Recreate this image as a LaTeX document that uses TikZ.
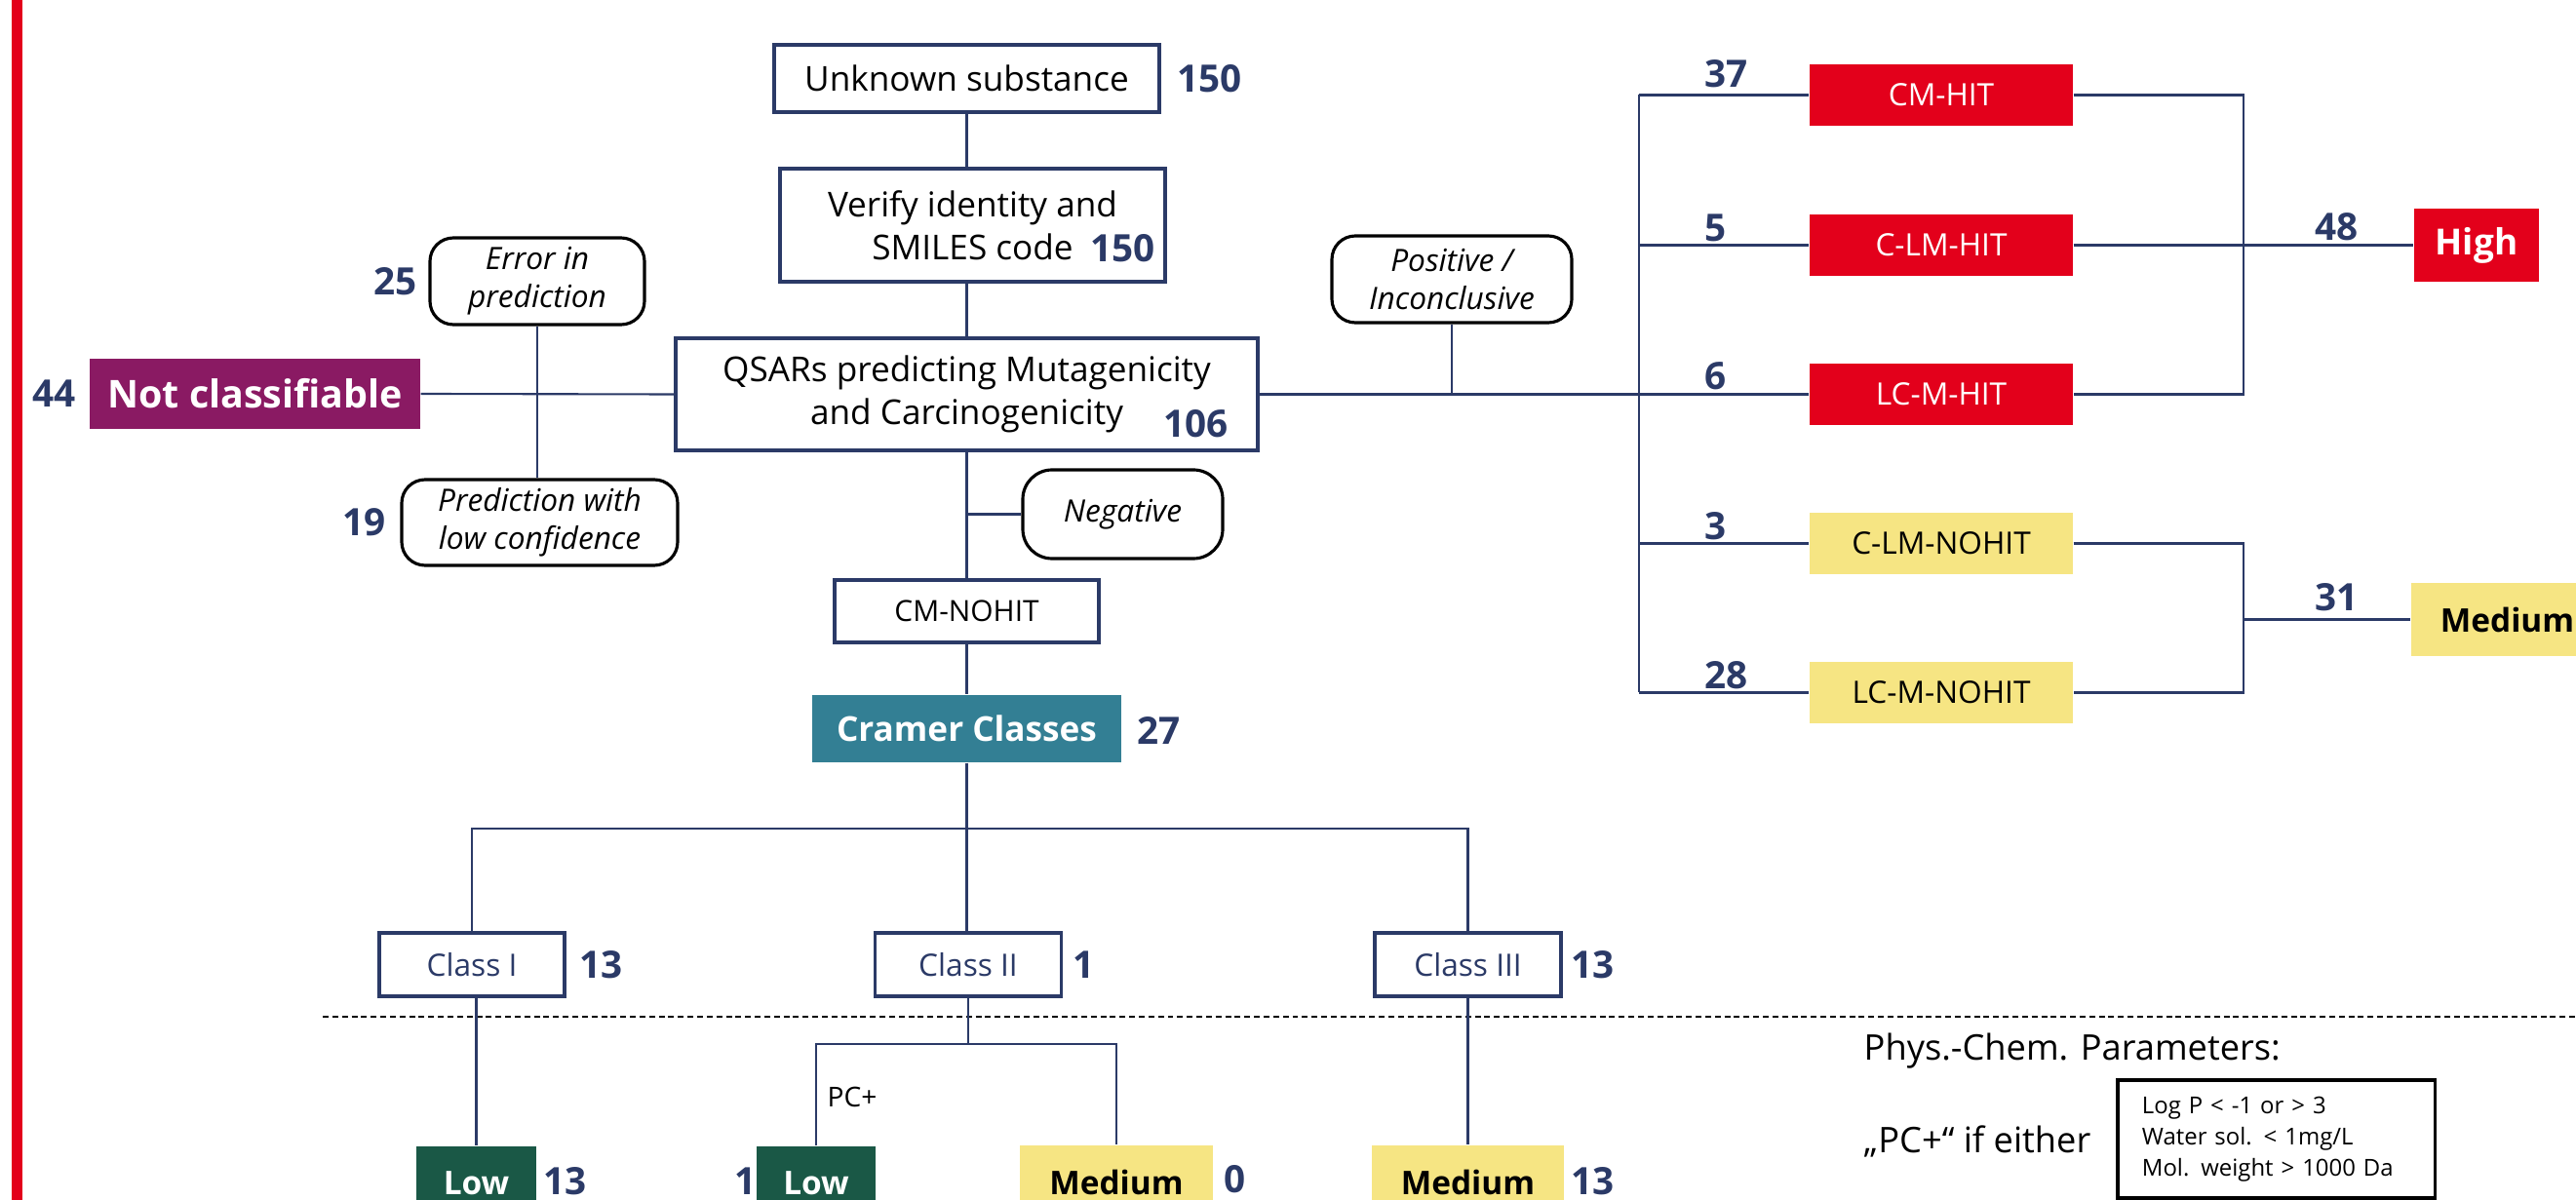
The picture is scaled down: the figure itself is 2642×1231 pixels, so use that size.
\documentclass[tikz,border=0pt]{standalone}
\usepackage{fontspec}
\setmainfont{Open Sans}
\definecolor{navy}{HTML}{2B3A67}
\definecolor{hitred}{HTML}{E3001B}
\definecolor{purp}{HTML}{8A1A63}
\definecolor{teal}{HTML}{337F94}
\definecolor{dgreen}{HTML}{1A5846}
\definecolor{ylw}{HTML}{F6E583}
\newcommand\fsz[2]{\fontsize{#1}{#2}\selectfont}
\tikzset{
  sz/.style 2 args={minimum width=#1*0.01cm, minimum height=#2*0.01cm},
  ln/.style={draw=navy, line width=0.6pt},
  plain/.style={draw=navy, line width=0.9pt, fill=white, inner sep=0pt, align=center, text=black, font=\fsz{10}{12.6}},
  rbox/.style={draw=black, line width=0.9pt, fill=white, inner sep=0pt, align=center, rounded corners=0.24cm, font=\fsz{9}{11}\itshape},
  cls/.style={plain, text=navy, font=\fsz{9}{11}},
  hit/.style={fill=hitred, inner sep=0pt, text=white, font=\fsz{9}{11}, sz={270}{63}},
  nohit/.style={fill=ylw, inner sep=0pt, text=black, font=\fsz{9}{11}, sz={270}{63}},
  res/.style={inner sep=0pt, font=\fsz{9.5}{11}\bfseries},
  num/.style={anchor=west, inner sep=0pt, text=navy, font=\fsz{11}{13}\bfseries},
}
\begin{document}
\begin{tikzpicture}[x=0.01cm,y=-0.01cm]
\path[use as bounding box] (0,0) rectangle (2642,1231);
\clip (0,0) rectangle (2642,1231);
\fill[hitred] (12,0) rectangle (23,1231);

% top column
\node[plain, sz={395}{69}] (unk) at (991.5,80.5) {Unknown substance};
\node[num] (n150a) at (1207,81) {150};
\node[plain, sz={395}{116}] (ver) at (997.5,231) {Verify identity and\\SMILES code};
\node[num] (n150b) at (1118,255) {150};
\node[plain, sz={597}{115}] (qsar) at (991.5,404.5) {QSARs predicting Mutagenicity\\and Carcinogenicity};
\node[num] (n106) at (1193,435) {106};

% left branch
\node[rbox, sz={220}{89}] (err) at (551,288.5) {Error in\\prediction};
\node[rbox, sz={283}{88}] (pred) at (553.5,536) {Prediction with\\low confidence};
\node[fill=purp, inner sep=0pt, text=white, font=\fsz{11.2}{13}\bfseries, sz={339}{72}] (notc) at (261.5,404) {Not classifiable};
\node[num] (n25) at (383,289) {25};
\node[num] (n44) at (33,404) {44};
\node[num] (n19) at (351,536) {19};

% positive branch
\node[rbox, sz={246}{89}] (pos) at (1489,286.5) {Positive /\\Inconclusive};
\node[hit] (cmhit) at (1991,97.5) {CM-HIT};
\node[hit] (clmhit) at (1991,251.5) {C-LM-HIT};
\node[hit] (lcmhit) at (1991,404.5) {LC-M-HIT};
\node[nohit] (clmno) at (1991,557.5) {C-LM-NOHIT};
\node[nohit] (lcmno) at (1991,710.5) {LC-M-NOHIT};
\node[num] (n37) at (1748,76) {37};
\node[num] (n5) at (1748,234) {5};
\node[num] (n6) at (1748,386) {6};
\node[num] (n3) at (1748,540) {3};
\node[num] (n28) at (1748,693) {28};
\node[fill=hitred, inner sep=0pt, text=white, font=\fsz{10.5}{12}\bfseries, sz={128}{75}] (high) at (2540,251.5) {High};
\node[res, fill=ylw, text=black, sz={197}{75}] (medr) at (2571.5,635.5) {Medium};
\node[num] (n48) at (2374,233) {48};
\node[num] (n31) at (2374,613) {31};

% negative branch
\node[rbox, sz={205}{91}, rounded corners=0.3cm] (neg) at (1151.5,527.5) {Negative};
\node[plain, sz={271}{64}, font=\fsz{8.5}{10}] (cmno) at (991.5,627) {CM-NOHIT};
\node[fill=teal, inner sep=0pt, text=white, font=\fsz{10}{12}\bfseries, sz={317}{69}] (cramer) at (991.5,747.5) {Cramer Classes};
\node[num] (n27) at (1166,749) {27};
\node[cls, sz={190}{65}] (c1) at (484,989.5) {Class I};
\node[cls, sz={191}{65}] (c2) at (993,989.5) {Class II};
\node[cls, sz={191}{65}] (c3) at (1505.5,989.5) {Class III};
\node[num] (n13a) at (594,990) {13};
\node[num] (n1a) at (1100,990) {1};
\node[num] (n13b) at (1611,990) {13};
\node[res, fill=dgreen, text=white, sz={123}{75}] (low1) at (488.5,1213.5) {Low};
\node[res, fill=dgreen, text=white, sz={122}{75}] (low2) at (837,1213.5) {Low};
\node[res, fill=ylw, text=black, sz={198}{75}] (med2) at (1145,1212.5) {Medium};
\node[res, fill=ylw, text=black, sz={197}{75}] (med3) at (1505.5,1212.5) {Medium};
\node[num] (n13c) at (557,1212) {13};
\node[num] (n1b) at (753,1212) {1};
\node[num] (n0) at (1255,1210) {0};
\node[num] (n13d) at (1611,1212) {13};
\node[anchor=west, inner sep=0pt, font=\fsz{8}{10}] (pcp) at (848,1125) {PC+};

% phys-chem legend
\node[anchor=base west, inner sep=0pt, font=\fsz{10.3}{12}] (phys) at (1911,1087) {Phys.-Chem. Parameters:};
\node[anchor=base west, inner sep=0pt, font=\fsz{10.3}{12}] (pcif) at (1911,1182) {„PC+“ if either};
\node[draw=black, line width=0.9pt, sz={325}{121}, inner xsep=0.25cm, inner ysep=0pt, text width=2.75cm, align=left, font=\fsz{6.8}{9.1}] (pcbox) at (2334.5,1168.5) {Log P < -1 or > 3\\Water sol. < 1mg/L\\Mol. weight > 1000 Da};

\draw[black, line width=0.6pt, dash pattern=on 1.7pt off 1.1pt] (331,1043) -- (2642,1043);

% connectors
\coordinate (jr) at (1681,404.5);
\coordinate (rh) at (2301,251.5);
\coordinate (rm) at (2301,635.5);
\coordinate (cj) at (991.5,850);
\coordinate (pj) at (993,1071);
\draw[ln] (unk.south) -- (unk.south |- ver.north);
\draw[ln] (qsar.north) -- (qsar.north |- ver.south);
\draw[ln] (qsar.west) -- (notc.east);
\draw[ln] (err.south) -- (err.south |- pred.north);
\draw[ln] (qsar.east) -- (jr);
\draw[ln] (pos.south) -- (pos.south |- jr);
\draw[ln] (cmhit.west -| jr) -- (lcmno.west -| jr);
\draw[ln] (cmhit.west -| jr) -- (cmhit.west);
\draw[ln] (clmhit.west -| jr) -- (clmhit.west);
\draw[ln] (lcmhit.west -| jr) -- (lcmhit.west);
\draw[ln] (clmno.west -| jr) -- (clmno.west);
\draw[ln] (lcmno.west -| jr) -- (lcmno.west);
\draw[ln] (cmhit.east) -- (cmhit.east -| rh) -- (lcmhit.east -| rh) -- (lcmhit.east);
\draw[ln] (clmhit.east) -- (high.west);
\draw[ln] (clmno.east) -- (clmno.east -| rm) -- (lcmno.east -| rm) -- (lcmno.east);
\draw[ln] (rm) -- (medr.west);
\draw[ln] (qsar.south) -- (cmno.north);
\draw[ln] (neg.west) -- (neg.west -| qsar.south);
\draw[ln] (cmno.south) -- (cramer.north);
\draw[ln] (cramer.south) -- (cramer.south |- c2.north);
\draw[ln] (c1.north) |- (cj) -| (c3.north);
\draw[ln] (c1.south -| low1.north) -- (low1.north);
\draw[ln] (c2.south) -- (pj);
\draw[ln] (low2.north) |- (pj) -| (med2.north);
\draw[ln] (c3.south) -- (med3.north);
\end{tikzpicture}
\end{document}
